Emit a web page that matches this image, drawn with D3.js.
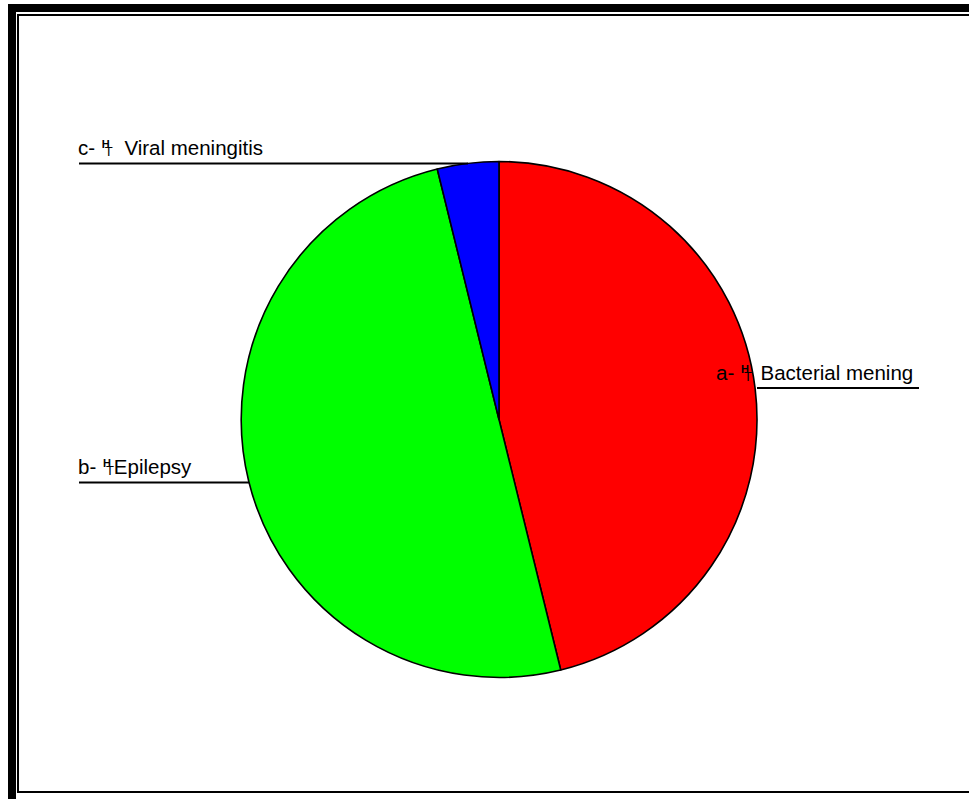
<!DOCTYPE html>
<html>
<head>
<meta charset="utf-8">
<script src="https://cdn.jsdelivr.net/npm/d3@7"></script>
<style>
  html, body { margin: 0; padding: 0; background: #fff; }
  svg { display: block; }
  text { font-family: "Liberation Sans", Arial, sans-serif; fill: #000; }
</style>
</head>
<body>
<svg id="chart" width="969" height="799"></svg>
<script>
// Slice data (counts), clockwise from 12 o'clock
const prefixes = ["a-", "b-", "c-"];
const categories = ["Bacterial mening", "Epilepsy", "Viral meningitis"];
const values = [12, 13, 1];
const colors = ["#ff0000", "#00ff00", "#0000ff"];

const svg = d3.select("#chart");

// Double frame: thick outer, thin inner
svg.append("rect")
  .attr("x", 12).attr("y", 8)
  .attr("width", 980).attr("height", 810)
  .attr("fill", "none").attr("stroke", "#000").attr("stroke-width", 8);
svg.append("rect")
  .attr("x", 18).attr("y", 15)
  .attr("width", 970).attr("height", 777)
  .attr("fill", "none").attr("stroke", "#000").attr("stroke-width", 2);

const cx = 499, cy = 419.5, r = 258;

const pie = d3.pie().sort(null).value(d => d.value);
const arc = d3.arc().innerRadius(0).outerRadius(r);
const data = categories.map((c, i) => ({ name: c, prefix: prefixes[i], value: values[i], color: colors[i] }));
const arcs = pie(data);

const g = svg.append("g").attr("transform", `translate(${cx},${cy})`);
g.selectAll("path")
  .data(arcs)
  .join("path")
  .attr("d", arc)
  .attr("fill", d => d.data.color)
  .attr("stroke", "#000")
  .attr("stroke-width", 1.6)
  .attr("stroke-linejoin", "round");

// Label layout: leader line and text placement per slice
const labelLayout = [
  { x: 716, base: 380, lineY: 388, x1: 757, x2: 919, gap: 3 },
  { x: 78, base: 474, lineY: 482.5, x1: 79, x2: 249, gap: 0 },
  { x: 78, base: 155, lineY: 163.5, x1: 79, x2: 468, gap: 6 }
];

arcs.forEach((a, i) => {
  const L = labelLayout[i];
  svg.append("line")
    .attr("x1", L.x1).attr("x2", L.x2)
    .attr("y1", L.lineY).attr("y2", L.lineY)
    .attr("stroke", "#000").attr("stroke-width", 2);
  const t = svg.append("text")
    .attr("x", L.x).attr("y", L.base)
    .attr("font-size", 20.5);
  t.append("tspan").text(a.data.prefix + " ");
  t.append("tspan").attr("font-size", 11).attr("font-weight", "bold").attr("dx", 1).attr("dy", -7).text("H");
  t.append("tspan").attr("font-size", 13).attr("dx", -5).attr("dy", 8).text("T");
  t.append("tspan").attr("dx", L.gap).attr("dy", -1).text((i === 1 ? "" : " ") + a.data.name);
});
</script>
</body>
</html>
